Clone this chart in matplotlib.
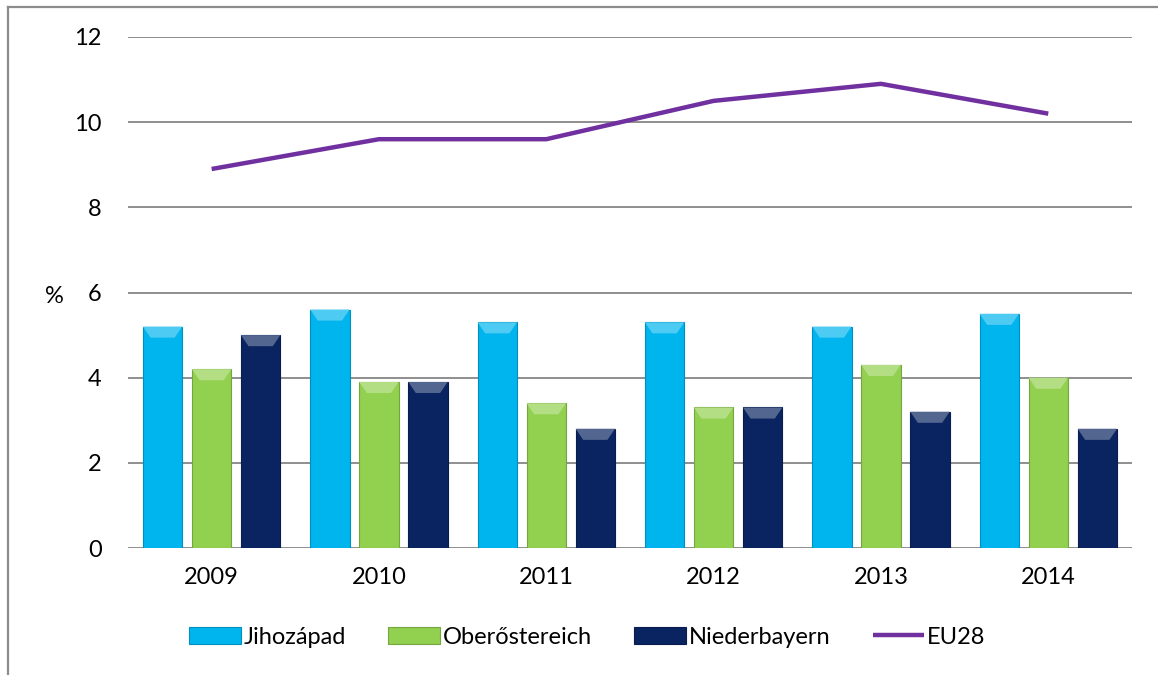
import numpy as np
import matplotlib
matplotlib.use("Agg")
import matplotlib.pyplot as plt
from matplotlib.patches import Polygon
from matplotlib.lines import Line2D
from matplotlib import colors as mcolors

plt.rcParams['font.family'] = ['Lato', 'DejaVu Sans']

# data
years = ['2009', '2010', '2011', '2012', '2013', '2014']
jihozapad = [5.2, 5.6, 5.3, 5.3, 5.2, 5.5]
oberoestereich = [4.2, 3.9, 3.4, 3.3, 4.3, 4.0]
niederbayern = [5.0, 3.9, 2.8, 3.3, 3.2, 2.8]
eu28 = [8.9, 9.6, 9.6, 10.5, 10.9, 10.2]

series_names = ['Jihozápad', 'Oberőstereich', 'Niederbayern']
bar_colors = ['#00B4EE', '#92D050', '#0A2461']
line_color = '#7030A0'
fs = 17

fig = plt.figure(figsize=(11.58, 6.75), dpi=100)
ax = fig.add_axes([0.1105, 0.1881, 0.867, 0.7571])

x = np.arange(len(years))
width = 0.235
step = 0.293
all_bars = []
for i, (vals, col, name) in enumerate(zip([jihozapad, oberoestereich, niederbayern], bar_colors, series_names)):
    bars = ax.bar(x + (i - 1) * step, vals, width, color=col, label=name, zorder=3,
                  edgecolor=mcolors.to_hex(np.array(mcolors.to_rgb(col)) * 0.8), linewidth=0.8)
    all_bars.append((bars, col))

# bevel on top of each bar
for bars, col in all_bars:
    light = np.array(mcolors.to_rgb(col))
    light = light + (1 - light) * 0.3
    for r in bars:
        x0 = r.get_x()
        x1 = x0 + r.get_width()
        y1 = r.get_height()
        h = 0.26
        ins = 0.045
        ax.add_patch(Polygon([(x0, y1), (x1, y1), (x1 - ins, y1 - h), (x0 + ins, y1 - h)],
                             closed=True, facecolor=light, edgecolor='none', zorder=4))

ax.plot(x, eu28, color=line_color, linewidth=3.2, label='EU28', zorder=5, solid_capstyle='butt')

ax.set_ylim(0, 12)
ax.set_xlim(-0.5, len(years) - 0.5)
ax.set_yticks(range(0, 13, 2))
ax.set_xticks(x)
ax.set_xticklabels(years)
ax.yaxis.grid(True, color='#868686', linewidth=1.3, zorder=0)
ax.set_axisbelow(True)
for s in ax.spines.values():
    s.set_visible(False)
ax.tick_params(axis='both', length=0, labelsize=fs, colors='black')
ax.tick_params(axis='y', pad=19)
ax.tick_params(axis='x', pad=14)

ax.text(-0.073, 5.9, '%', transform=ax.get_yaxis_transform(), ha='center', va='center', fontsize=fs)

handles, labels = ax.get_legend_handles_labels()
order = [1, 2, 3, 0]
fig.legend([handles[k] for k in order], [labels[k] for k in order],
           loc='center', bbox_to_anchor=(0.507, 0.056), ncol=4, frameon=False, fontsize=fs,
           handlelength=2.2, handletextpad=0.1, columnspacing=1.8, handleheight=0.7)

# outer frame (left and top edges visible)
fig.add_artist(Line2D([0.0069, 0.0069], [0.0, 0.989], color='#8C8C8C', linewidth=1.6))
fig.add_artist(Line2D([0.0069, 1.0], [0.989, 0.989], color='#8C8C8C', linewidth=1.6))

fig.savefig('out.png', dpi=100, facecolor='white')
